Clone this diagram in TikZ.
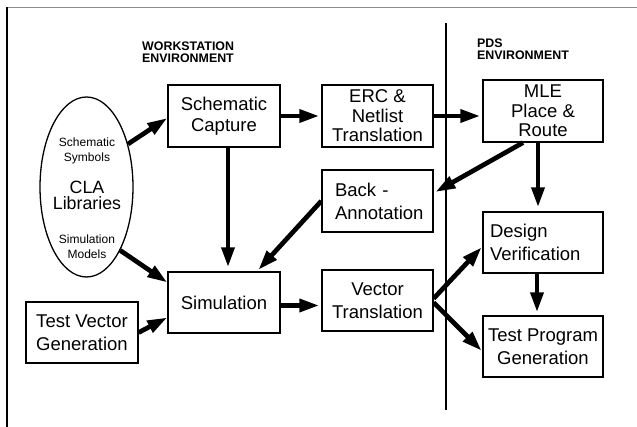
\documentclass[tikz,border=0pt]{standalone}
\usepackage{fontspec}
\setmainfont{Liberation Sans}
\usetikzlibrary{arrows.meta,shapes.geometric}
\begin{document}
\begin{tikzpicture}[x=1pt,y=-1pt,
  box/.style={draw, line width=1.3pt, inner sep=0pt, align=center,
    font=\fontsize{18.5}{23}\selectfont},
  threeline/.style={font=\fontsize{18.5}{19.5}\selectfont},
  small/.style={inner sep=0pt, align=center, font=\fontsize{12}{15}\selectfont},
  head/.style={inner sep=0pt, anchor=north west, align=left,
    font=\bfseries\fontsize{12.4}{11.9}\selectfont},
  arr/.style={line width=4.7pt, -{Triangle[length=20pt,width=12.5pt]}, shorten >=2pt},
  frameline/.style={line width=1.3pt}]
\useasboundingbox (0,0) rectangle (637,427);
% frame
\draw[line width=1.5pt, black!45] (7,7.5) -- (637,7.5);
\draw[frameline] (7,7.5) -- (7,427);
% divider
\draw[line width=1.2pt] (446,23) -- (446,410);
% headings
\node[head] (hws) at (142,41.7) {WORKSTATION\\ENVIRONMENT};
\node[head] (hpds) at (477,38.3) {PDS\\ENVIRONMENT};
% ellipse
\node[ellipse, draw, line width=1.3pt, minimum width=93pt, minimum height=180pt, inner sep=0pt] (lib) at (86.5,187) {};
\node[small] (libsym) at (87,151) {Schematic\\Symbols};
\node[small, font=\fontsize{17.8}{16.5}\selectfont] (libcla) at (87,195.5) {CLA\\Libraries};
\node[small] (libsim) at (87,247) {Simulation\\Models};
% boxes
\node[box, minimum width=112pt, minimum height=62pt, font=\fontsize{18.5}{20.5}\selectfont] (sc) at (224,116) {Schematic\\Capture};
\node[box, threeline, minimum width=111pt, minimum height=62pt] (erc) at (377.5,116) {ERC \&\\Netlist\\Translation};
\node[box, threeline, minimum width=120pt, minimum height=62pt] (mle) at (543,111) {MLE\\Place \&\\Route};
\node[box, minimum width=111pt, minimum height=62pt, align=left, inner xsep=13pt, text width=85pt] (back) at (377.5,201) {Back -\\Annotation};
\node[box, minimum width=120pt, minimum height=61pt, align=left, inner xsep=7pt, text width=106pt] (dv) at (543,242.5) {Design\\Verification};
\node[box, minimum width=120pt, minimum height=61pt] (tpg) at (543,346.5) {Test Program\\Generation};
\node[box, minimum width=111pt, minimum height=61pt] (vt) at (377.5,300.5) {Vector\\Translation};
\node[box, minimum width=112pt, minimum height=61pt] (sim) at (224,302.5) {Simulation};
\node[box, minimum width=112pt, minimum height=61pt] (tvg) at (82,332.5) {Test Vector\\Generation};
% arrows
\draw[arr, shorten >=0pt] (lib.46) -- ([yshift=-2pt]sc.west);
\draw[arr] (sc.east) -- (erc.west);
\draw[arr] (erc.east) -- (erc.east -| mle.west);
\draw[arr] ([xshift=-20pt]mle.south) -- ([yshift=8pt]back.east);
\draw[arr, shorten >=4pt] ([xshift=-5pt]mle.south) -- ([xshift=-5pt]dv.north);
\draw[arr, shorten >=4pt] ([xshift=4pt]sc.south) -- ([xshift=4pt]sim.north);
\draw[arr] (back.west) -- ([xshift=33pt]sim.north);
\draw[arr, shorten >=0pt] (lib.-62) -- ([yshift=20pt]sim.west);
\draw[arr, shorten >=0pt] (tvg.east) -- ([yshift=-15pt]sim.west);
\draw[arr] ([yshift=-3pt]sim.east) -- ([yshift=-3pt]sim.east -| vt.west);
\draw[arr, shorten >=1pt] ([yshift=2pt]vt.east) -- ([yshift=-4pt]dv.west);
\draw[arr, shorten >=1pt] ([yshift=-2pt]vt.east) -- ([yshift=-5pt]tpg.west);
\draw[arr, shorten >=3pt] ([xshift=-6pt]dv.south) -- ([xshift=-6pt]tpg.north);
\end{tikzpicture}
\end{document}
